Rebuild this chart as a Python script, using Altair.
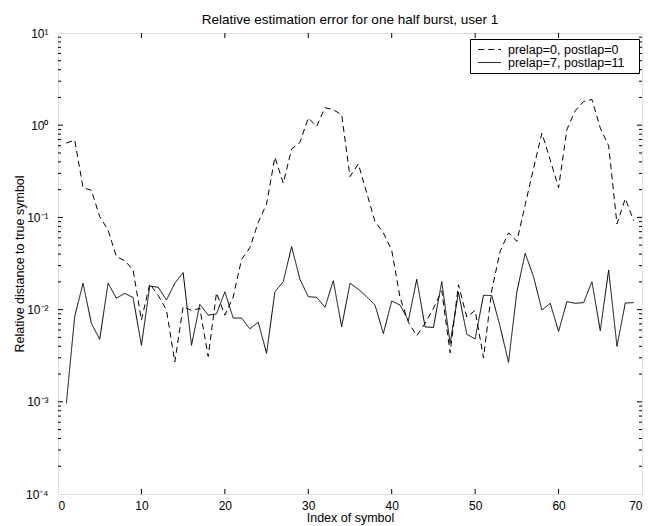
import altair as alt
import pandas as pd

# ---- data ----
idx = list(range(1, 70))
series_names = ["prelap=0, postlap=0", "prelap=7, postlap=11"]

err_nolap = [0.64, 0.69, 0.21, 0.197, 0.102, 0.073, 0.0375, 0.034, 0.027, 0.0077,
             0.019, 0.0143, 0.0099, 0.0027, 0.0108, 0.0098, 0.0103, 0.0031, 0.0152, 0.0087,
             0.0137, 0.035, 0.047, 0.088, 0.14, 0.45, 0.235, 0.55, 0.65, 1.2,
             0.97, 1.55, 1.47, 1.30, 0.277, 0.38, 0.185, 0.09, 0.068, 0.044,
             0.0135, 0.0073, 0.0052, 0.0071, 0.0103, 0.016, 0.0034, 0.0186, 0.0083, 0.0098,
             0.0030, 0.0163, 0.043, 0.068, 0.055, 0.137, 0.34, 0.82, 0.42, 0.21,
             0.9, 1.44, 1.81, 1.9, 0.93, 0.6, 0.085, 0.16, 0.092]

err_lap = [0.00096, 0.0084, 0.0193, 0.0071, 0.00476, 0.0193, 0.0133, 0.0150, 0.0135, 0.0041,
           0.018, 0.0175, 0.0127, 0.0193, 0.0252, 0.0041, 0.0114, 0.0087, 0.0090, 0.0156,
           0.0081, 0.0081, 0.0062, 0.0073, 0.00336, 0.0156, 0.0201, 0.0482, 0.0213, 0.0138,
           0.0136, 0.0106, 0.0206, 0.0065, 0.0193, 0.0166, 0.0138, 0.0112, 0.0055, 0.0124,
           0.0112, 0.0076, 0.0213, 0.0065, 0.0064, 0.0201, 0.0043, 0.0154, 0.0054, 0.0048,
           0.0143, 0.0142, 0.0065, 0.00268, 0.0156, 0.0408, 0.0227, 0.0099, 0.0117, 0.0058,
           0.0122, 0.0117, 0.0119, 0.0201, 0.0059, 0.0269, 0.0040, 0.0118, 0.0119]

x_label_values = [0, 10, 20, 30, 40, 50, 60, 70]
x_inner_ticks = [10, 20, 30, 40, 50, 60]
y_label_values = [1e-4, 1e-3, 1e-2, 1e-1, 1, 10]
y_inner_major = [1e-3, 1e-2, 1e-1, 1]
y_minor = [m * 10.0 ** k for k in range(-4, 1) for m in range(2, 10)]

# ---- tables ----
df = pd.DataFrame({
    "x": idx * 2,
    "y": err_nolap + err_lap,
    "series": [series_names[0]] * len(idx) + [series_names[1]] * len(idx),
})
df_xt = pd.DataFrame({"x": x_inner_ticks})
df_ymaj = pd.DataFrame({"y": y_inner_major})
df_ymin = pd.DataFrame({"y": y_minor})

W, H = 584, 461
FONT = "Liberation Sans"

xscale = alt.Scale(domain=[0, 70], nice=False, zero=False)
yscale = alt.Scale(type="log", domain=[1e-4, 10], nice=False)

label_expr = ("datum.value >= 5 ? '10\u00b9' : datum.value >= 0.5 ? '10\u2070' : "
              "datum.value >= 0.05 ? '10\u207b\u00b9' : datum.value >= 0.005 ? '10\u207b\u00b2' : "
              "datum.value >= 0.0005 ? '10\u207b\u00b3' : '10\u207b\u2074'")

xaxis = alt.Axis(values=x_label_values, title="Index of symbol", grid=False,
                 domain=False, ticks=False, tickSize=0, labelPadding=6,
                 labelFont=FONT, labelFontSize=12, labelColor="black",
                 titleFont=FONT, titleFontSize=12.5, titleFontWeight="normal",
                 titleColor="black", titleY=17)
yaxis = alt.Axis(values=y_label_values, labelExpr=label_expr,
                 title="Relative distance to true symbol", grid=False,
                 domain=False, ticks=False, tickSize=0, labelPadding=10,
                 labelFont=FONT, labelFontSize=12, labelColor="black",
                 titleFont=FONT, titleFontSize=12.5, titleFontWeight="normal",
                 titleColor="black", titleX=-32, titleY=H / 2)

lines = alt.Chart(df).mark_line(color="black", strokeWidth=1).encode(
    x=alt.X("x:Q", scale=xscale, axis=xaxis),
    y=alt.Y("y:Q", scale=yscale, axis=yaxis),
    strokeDash=alt.StrokeDash(
        "series:N",
        scale=alt.Scale(domain=series_names, range=[[6, 4], [1, 0]]),
        legend=alt.Legend(orient="none", legendX=412, legendY=6, title=None,
                          fillColor="white", strokeColor="black", padding=4,
                          symbolType="M-0.4,0H3.6", symbolSize=130,
                          symbolStrokeColor="black", symbolStrokeWidth=1,
                          labelFont=FONT, labelFontSize=12.5, labelColor="black",
                          labelLimit=300,
                          labelExpr="datum.label + '\u00a0\u00a0\u00a0\u200b'",
                          rowPadding=0, labelOffset=21),
    ),
)

xt_bottom = alt.Chart(df_xt).mark_rule(color="black", strokeWidth=1).encode(
    x=alt.X("x:Q", scale=xscale, axis=xaxis), y=alt.value(H), y2=alt.value(H - 5))
xt_top = alt.Chart(df_xt).mark_rule(color="black", strokeWidth=1).encode(
    x=alt.X("x:Q", scale=xscale, axis=xaxis), y=alt.value(0), y2=alt.value(5))
ymaj_left = alt.Chart(df_ymaj).mark_rule(color="black", strokeWidth=1).encode(
    y=alt.Y("y:Q", scale=yscale, axis=yaxis), x=alt.value(0), x2=alt.value(5))
ymaj_right = alt.Chart(df_ymaj).mark_rule(color="black", strokeWidth=1).encode(
    y=alt.Y("y:Q", scale=yscale, axis=yaxis), x=alt.value(W), x2=alt.value(W - 5))
ymin_left = alt.Chart(df_ymin).mark_rule(color="black", strokeWidth=1).encode(
    y=alt.Y("y:Q", scale=yscale, axis=yaxis), x=alt.value(0), x2=alt.value(3))
ymin_right = alt.Chart(df_ymin).mark_rule(color="black", strokeWidth=1).encode(
    y=alt.Y("y:Q", scale=yscale, axis=yaxis), x=alt.value(W), x2=alt.value(W - 3))

chart = alt.layer(lines, xt_bottom, xt_top, ymaj_left, ymaj_right, ymin_left, ymin_right).properties(
    width=W, height=H,
    title=alt.TitleParams("Relative estimation error for one half burst, user 1",
                          font=FONT, fontSize=13.5, fontWeight="normal", color="black",
                          anchor="middle", frame="group", offset=1),
    padding={"left": 50, "top": 25, "right": 8, "bottom": 32},
    autosize="none",
).configure_view(stroke="black", strokeWidth=1.2).configure(background="white")

chart.save("out.html", embed_options={"renderer": "svg", "actions": False})
